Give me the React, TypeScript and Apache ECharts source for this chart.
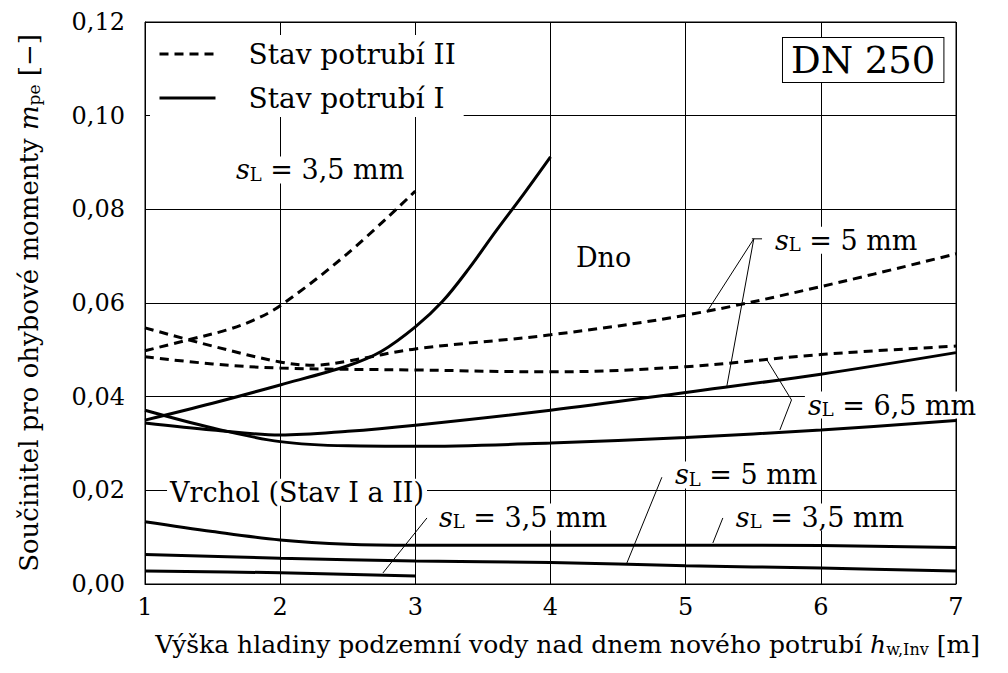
import { useEffect, useRef } from "react";
import * as echarts from "echarts";

const FONT = "DejaVu Serif";

// x-axis / y-axis tick settings
const X_MIN = 1;
const X_MAX = 7;
const Y_MIN = 0;
const Y_MAX = 0.12;

// Stav potrubí II (dashed) – Dno
const II_35_X = [1, 1.33, 1.6, 1.8, 2, 2.5, 3];
const II_35_Y = [0.0498, 0.0522, 0.0542, 0.0563, 0.0594, 0.0706, 0.0839];
const II_5_X = [1, 1.5, 2, 2.25, 2.5, 3, 4, 5, 6, 7];
const II_5_Y = [0.0547, 0.0508, 0.0474, 0.0467, 0.0476, 0.0502, 0.0532, 0.0574, 0.0635, 0.0705];
const II_65_X = [1, 1.5, 2, 3, 4, 5, 6, 7];
const II_65_Y = [0.0485, 0.047, 0.0461, 0.0457, 0.0453, 0.0464, 0.049, 0.0508];

// Stav potrubí I (solid) – Dno
const I_35_X = [1, 1.5, 2, 2.5, 2.75, 3, 3.2, 3.4, 3.6, 3.8, 4];
const I_35_Y = [0.035, 0.0386, 0.0425, 0.0466, 0.0497, 0.0549, 0.0603, 0.0675, 0.0755, 0.0832, 0.0912];
const I_5_X = [1, 1.5, 2, 2.5, 3, 4, 5, 6, 7];
const I_5_Y = [0.0344, 0.0329, 0.0318, 0.0326, 0.0339, 0.0371, 0.0409, 0.0448, 0.0494];
const I_65_X = [1, 1.5, 2, 2.5, 3, 4, 5, 6, 7];
const I_65_Y = [0.0371, 0.0333, 0.0304, 0.0295, 0.0294, 0.0301, 0.0313, 0.0329, 0.0349];

// Vrchol (Stav I a II)
const V_TOP_X = [1, 1.5, 2, 2.5, 3, 4, 5, 6, 7];
const V_TOP_Y = [0.0133, 0.0112, 0.0094, 0.0085, 0.0083, 0.0083, 0.0083, 0.0082, 0.0078];
const V_MID_X = [1, 2, 3, 4, 5, 6, 7];
const V_MID_Y = [0.0063, 0.0055, 0.0049, 0.0046, 0.0039, 0.0034, 0.0028];
const V_BOT_X = [1, 2, 3];
const V_BOT_Y = [0.0028, 0.0024, 0.0017];

const LEGEND_II = "Stav potrubí II";
const LEGEND_I = "Stav potrubí I";

// annotation labels (data coordinates of left / middle)
const ANN_TEXT = [
  "{i|s}{sub|L}{t| = 3,5 mm}",
  "{t|Dno}",
  "{i|s}{sub|L}{t| = 5 mm}",
  "{i|s}{sub|L}{t| = 6,5 mm}",
  "{t|Vrchol (Stav I a II)}",
  "{i|s}{sub|L}{t| = 3,5 mm}",
  "{i|s}{sub|L}{t| = 5 mm}",
  "{i|s}{sub|L}{t| = 3,5 mm}",
];
const ANN_X = [1.651, 4.166, 5.638, 5.882, 1.163, 3.152, 4.898, 5.349];
const ANN_Y = [0.0884, 0.0698, 0.0734, 0.0382, 0.0196, 0.0143, 0.0233, 0.0143];

// leader lines [x1, y1, x2, y2] in data coordinates
const LEADERS = [
  [5.504, 0.0737, 5.157, 0.0581],
  [5.504, 0.0737, 5.305, 0.0423],
  [5.49, 0.0737, 5.565, 0.0737],
  [5.783, 0.0393, 5.598, 0.048],
  [5.783, 0.0393, 5.697, 0.0329],
  [3.086, 0.0141, 2.76, 0.00235],
  [4.824, 0.0228, 4.565, 0.00448],
  [5.275, 0.0141, 5.201, 0.00875],
];

const DN_TEXT = "DN 250";
const DN_X = 5.72;
const DN_Y = 0.1166;

const mk = (id: string, name: string, xs: number[], ys: number[], dashed: boolean) => ({
  id,
  type: "line",
  name,
  data: xs.map((x, i) => [x, ys[i]]),
  symbol: "none",
  showSymbol: false,
  smooth: 0.35,
  lineStyle: { color: "#000", width: 3, type: dashed ? [9, 6] : "solid" },
  itemStyle: { color: "#000" },
  z: 3,
});

const rich = {
  t: { fontFamily: FONT, fontSize: 27, color: "#000" },
  i: { fontFamily: FONT, fontSize: 27, fontStyle: "italic", color: "#000" },
  sub: { fontFamily: FONT, fontSize: 18, color: "#000", lineHeight: 16, verticalAlign: "bottom" },
};

export default function App() {
  const ref = useRef<HTMLDivElement>(null);
  useEffect(() => {
    document.body.style.margin = "0";
    const chart = echarts.init(ref.current!, null, { renderer: "svg" });
    chart.setOption({
      animation: false,
      backgroundColor: "#fff",
      grid: { left: 145, right: 52, top: 22, bottom: 89, show: true, borderColor: "#000", borderWidth: 1, backgroundColor: "transparent" },
      legend: {
        data: [LEGEND_II, LEGEND_I],
        orient: "vertical",
        left: 150,
        top: 35,
        itemWidth: 56,
        itemHeight: 14,
        itemGap: 14,
        selectedMode: false,
        backgroundColor: "#fff",
        padding: [4, 8, 4, 8],
        itemStyle: { opacity: 0, borderWidth: 0 },
        lineStyle: { width: 3 },
        textStyle: { fontFamily: FONT, fontSize: 28, color: "#000", padding: [0, 0, 0, 28], lineHeight: 30 },
        z: 10,
      },
      xAxis: {
        type: "value",
        min: X_MIN,
        max: X_MAX,
        interval: 1,
        axisLine: { show: true, lineStyle: { color: "#000", width: 1 } },
        axisTick: { show: false },
        splitLine: { show: true, lineStyle: { color: "#000", width: 1 } },
        axisLabel: { fontFamily: FONT, fontSize: 24, color: "#000", margin: 11 },
        name: "{t|Výška hladiny podzemní vody nad dnem nového potrubí }{i|h}{sub|w,Inv}{t| [m]}",
        nameLocation: "middle",
        nameGap: 48,
        nameTextStyle: {
          padding: [0, 0, 0, 34],
          rich: {
            t: { fontFamily: FONT, fontSize: 25, color: "#000" },
            i: { fontFamily: FONT, fontSize: 25, fontStyle: "italic", color: "#000" },
            sub: { fontFamily: FONT, fontSize: 16, color: "#000", lineHeight: 14, verticalAlign: "bottom" },
          },
        },
      },
      yAxis: {
        type: "value",
        min: Y_MIN,
        max: Y_MAX,
        interval: 0.02,
        axisLine: { show: true, lineStyle: { color: "#000", width: 1 } },
        axisTick: { show: false },
        splitLine: { show: true, lineStyle: { color: "#000", width: 1 } },
        axisLabel: {
          fontFamily: FONT,
          fontSize: 24,
          color: "#000",
          margin: 20,
          formatter: (v: number) => v.toFixed(2).replace(".", ","),
        },
        name: "{t|Součinitel pro ohybové momenty }{i|m}{sub|pe}{t| [−]}",
        nameLocation: "middle",
        nameGap: 103,
        nameTextStyle: {
          rich: {
            t: { fontFamily: FONT, fontSize: 26, color: "#000" },
            i: { fontFamily: FONT, fontSize: 26, fontStyle: "italic", color: "#000" },
            sub: { fontFamily: FONT, fontSize: 17, color: "#000", lineHeight: 15, verticalAlign: "bottom" },
          },
        },
      },
      series: [
        mk("ii35", LEGEND_II, II_35_X, II_35_Y, true),
        mk("ii5", LEGEND_II, II_5_X, II_5_Y, true),
        mk("ii65", LEGEND_II, II_65_X, II_65_Y, true),
        mk("i35", LEGEND_I, I_35_X, I_35_Y, false),
        mk("i5", LEGEND_I, I_5_X, I_5_Y, false),
        mk("i65", LEGEND_I, I_65_X, I_65_Y, false),
        mk("vtop", LEGEND_I, V_TOP_X, V_TOP_Y, false),
        mk("vmid", LEGEND_I, V_MID_X, V_MID_Y, false),
        mk("vbot", LEGEND_I, V_BOT_X, V_BOT_Y, false),
      ],
    });

    const px = (x: number, y: number) => chart.convertToPixel({ gridIndex: 0 }, [x, y]) as number[];
    const graphics: any[] = [];
    LEADERS.forEach((l) => {
      const a = px(l[0], l[1]);
      const b = px(l[2], l[3]);
      graphics.push({
        type: "line",
        shape: { x1: a[0], y1: a[1], x2: b[0], y2: b[1] },
        style: { stroke: "#000", lineWidth: 1 },
        z: 50,
      });
    });
    ANN_TEXT.forEach((t, i) => {
      const p = px(ANN_X[i], ANN_Y[i]);
      graphics.push({
        type: "text",
        x: p[0],
        y: p[1],
        z: 60,
        style: {
          text: t,
          rich,
          fontFamily: FONT,
          fontSize: 27,
          fill: "#000",
          backgroundColor: "#fff",
          padding: [0, 3, 0, 3],
          align: "left",
          verticalAlign: "middle",
        },
      });
    });
    const d = px(DN_X, DN_Y);
    graphics.push({
      type: "text",
      x: d[0],
      y: d[1],
      z: 60,
      style: {
        text: DN_TEXT,
        fontFamily: FONT,
        fontSize: 37,
        fill: "#000",
        backgroundColor: "#fff",
        borderColor: "#000",
        borderWidth: 1,
        padding: [4, 8, 3, 8],
        align: "left",
        verticalAlign: "top",
      },
    });
    chart.setOption({ graphic: graphics });
    return () => chart.dispose();
  }, []);
  return <div ref={ref} style={{ width: 1008, height: 673 }} />;
}
